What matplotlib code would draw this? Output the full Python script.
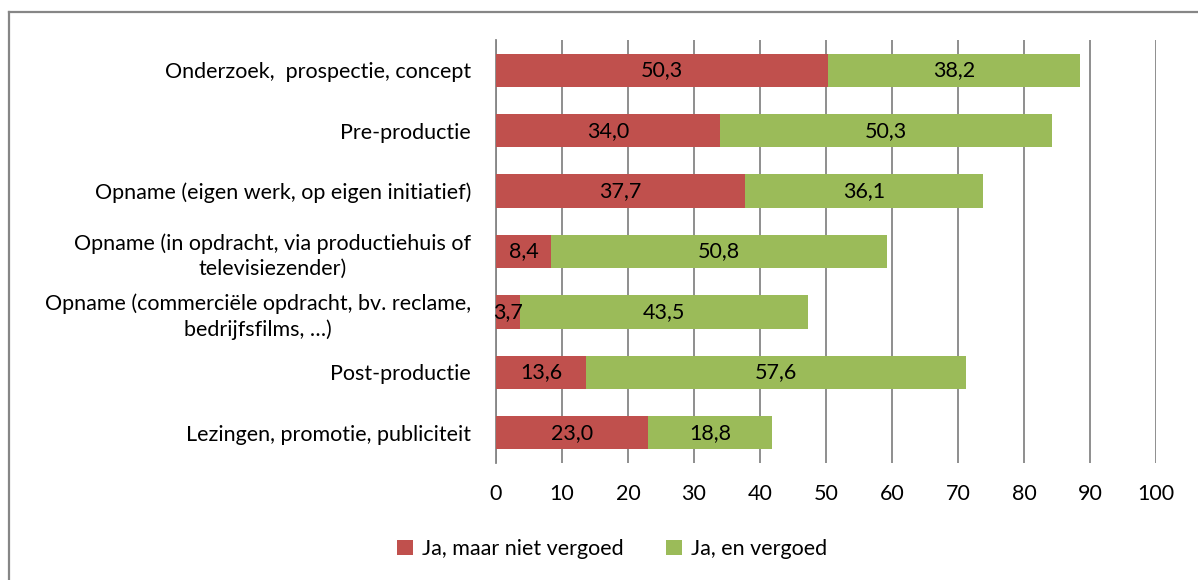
import numpy as np
import matplotlib.pyplot as plt
from matplotlib.lines import Line2D

categories = [
    'Onderzoek,  prospectie, concept',
    'Pre-productie',
    'Opname (eigen werk, op eigen initiatief)',
    'Opname (in opdracht, via productiehuis of\ntelevisiezender)',
    'Opname (commerciële opdracht, bv. reclame,\nbedrijfsfilms, …)',
    'Post-productie',
    'Lezingen, promotie, publiciteit',
]
niet_vergoed = [50.3, 34.0, 37.7, 8.4, 3.7, 13.6, 23.0]
vergoed = [38.2, 50.3, 36.1, 50.8, 43.5, 57.6, 18.8]
series_names = ['Ja, maar niet vergoed', 'Ja, en vergoed']
colors = ['#C0504D', '#9BBB59']

plt.rcParams['font.family'] = ['Lato', 'DejaVu Sans']
fs = 15.5

fig = plt.figure(figsize=(11.98, 5.8), dpi=100)
ax = fig.add_axes([496 / 1198, 1 - 463 / 580, 660 / 1198, 423 / 580])

y = np.arange(len(categories))
ax.barh(y, niet_vergoed, height=0.55, color=colors[0], label=series_names[0], zorder=3)
ax.barh(y, vergoed, left=niet_vergoed, height=0.55, color=colors[1], label=series_names[1], zorder=3)

for i in range(len(categories)):
    ax.text(niet_vergoed[i] / 2, y[i], f'{niet_vergoed[i]:.1f}'.replace('.', ','),
            ha='center', va='center', fontsize=fs, zorder=4)
    ax.text(niet_vergoed[i] + vergoed[i] / 2, y[i], f'{vergoed[i]:.1f}'.replace('.', ','),
            ha='center', va='center', fontsize=fs, zorder=4)

ax.set_xlim(0, 100)
ax.set_ylim(len(categories) - 0.5, -0.5)
ax.set_xticks(np.arange(0, 101, 10))
ax.set_yticks(y)
ax.set_yticklabels(categories, fontsize=fs, multialignment='center', linespacing=1.3)
ax.tick_params(axis='y', length=0, pad=18)
ax.tick_params(axis='x', length=0, pad=15, labelsize=fs)
ax.grid(axis='x', color='#868686', linewidth=1.3, zorder=0)
for s in ['top', 'right', 'bottom']:
    ax.spines[s].set_visible(False)
ax.spines['left'].set_color('#868686')
ax.spines['left'].set_linewidth(1.3)

ax.legend(loc='center', bbox_to_anchor=(612 / 1198, 1 - 549 / 580), bbox_transform=fig.transFigure,
          ncol=2, frameon=False, fontsize=fs, handlelength=0.75, handleheight=0.75,
          handletextpad=0.4, columnspacing=2.0)

# chart-area frame (only left and top edges visible in the crop)
fx, fy = 8.5 / 1198, 1 - 11.5 / 580
fig.lines.append(Line2D([fx, fx], [0, fy], transform=fig.transFigure, color='#868686', linewidth=1.6))
fig.lines.append(Line2D([fx, 1], [fy, fy], transform=fig.transFigure, color='#868686', linewidth=1.6))

fig.savefig('out.png', dpi=100)
